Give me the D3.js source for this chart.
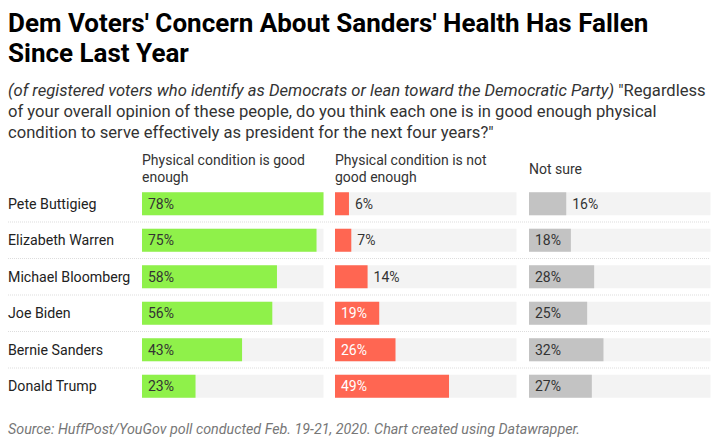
<!DOCTYPE html>
<html><head><meta charset="utf-8">
<script src="https://cdn.jsdelivr.net/npm/d3@7"></script>
<style>
body{margin:0;background:#fff;font-family:Roboto,sans-serif;}
svg text{font-family:Roboto,sans-serif;}
</style></head>
<body><svg id="c" width="720" height="438"></svg>
<script>
const candidates = ["Pete Buttigieg","Elizabeth Warren","Michael Bloomberg","Joe Biden","Bernie Sanders","Donald Trump"];
const goodEnough = [78,75,58,56,43,23];
const notGoodEnough = [6,7,14,19,26,49];
const notSure = [16,18,28,25,32,27];
const columnTitles = [["Physical condition is good","enough"],["Physical condition is not","good enough"],["Not sure"]];
const titleLines = ["Dem Voters' Concern About Sanders' Health Has Fallen","Since Last Year"];
const sourceText = "Source: HuffPost/YouGov poll conducted Feb. 19-21, 2020. Chart created using Datawrapper.";

const svg = d3.select("#c");
const cols = [
  {values: goodEnough, color:"#8ff14a", x0:142, inText:"#333", outText:"#333"},
  {values: notGoodEnough, color:"#ff6652", x0:335, inText:"#fff", outText:"#333"},
  {values: notSure, color:"#c3c3c3", x0:529, inText:"#333", outText:"#333"}
];
const colW = 181.5;
const x = d3.scaleLinear().domain([0,78]).range([0,colW]);
const y = d3.scaleBand().domain(candidates).range([185.5,404.5]).paddingInner(0.37).paddingOuter(0.185);

// title
svg.append("g").selectAll("text").data(titleLines).join("text")
  .attr("x",8).attr("y",(d,i)=>32+i*30)
  .attr("font-size",26).attr("font-weight",700).attr("fill","#000")
  .text(d=>d);

// subtitle
const sub = svg.append("text").attr("font-size",16.6).attr("fill","#333");
const l1 = sub.append("tspan").attr("x",8).attr("y",96);
l1.append("tspan").attr("font-style","italic").text("(of registered voters who identify as Democrats or lean toward the Democratic Party)");
l1.append("tspan").text(" \"Regardless");
sub.append("tspan").attr("x",8).attr("y",117).text("of your overall opinion of these people, do you think each one is in good enough physical");
sub.append("tspan").attr("x",8).attr("y",138).text("condition to serve effectively as president for the next four years?\"");

// column headers
cols.forEach((c,ci)=>{
  const lines = columnTitles[ci];
  const g = svg.append("text").attr("font-size",14).attr("fill","#333");
  const y0 = lines.length===2 ? 165 : 174;
  lines.forEach((t,i)=>g.append("tspan").attr("x",c.x0).attr("y",y0+i*17).text(t));
});

// separators
const step = y.step();
svg.append("g").selectAll("line").data(candidates.slice(0,-1)).join("line")
  .attr("x1",8).attr("x2",710)
  .attr("y1",d=>y(d)+y.bandwidth()+ (step-y.bandwidth())/2)
  .attr("y2",d=>y(d)+y.bandwidth()+ (step-y.bandwidth())/2)
  .attr("stroke","#ddd").attr("stroke-width",1).attr("stroke-dasharray","1,1");

// row labels
svg.append("g").selectAll("text").data(candidates).join("text")
  .attr("x",8).attr("y",d=>y(d)+y.bandwidth()/2).attr("dy","0.35em")
  .attr("font-size",14.2).attr("fill","#222").text(d=>d);

// bars
cols.forEach(c=>{
  const g = svg.append("g").attr("transform",`translate(${c.x0},0)`);
  g.selectAll("rect.bg").data(candidates).join("rect").attr("class","bg")
    .attr("x",0).attr("y",d=>y(d)).attr("width",x(78)).attr("height",y.bandwidth())
    .attr("fill","#f3f3f3");
  g.selectAll("rect.bar").data(c.values).join("rect").attr("class","bar")
    .attr("x",0).attr("y",(d,i)=>y(candidates[i])).attr("width",d=>x(d)).attr("height",y.bandwidth())
    .attr("fill",c.color);
  g.selectAll("text").data(c.values).join("text")
    .attr("x",d=> x(d)>40 ? 6 : x(d)+6)
    .attr("y",(d,i)=>y(candidates[i])+y.bandwidth()/2).attr("dy","0.35em")
    .attr("font-size",14)
    .attr("fill",d=> x(d)>40 ? c.inText : c.outText)
    .text(d=>d+"%");
});

// source
svg.append("text").attr("x",8).attr("y",434).attr("font-size",14.3)
  .attr("font-style","italic").attr("fill","#777").text(sourceText);
</script></body></html>
